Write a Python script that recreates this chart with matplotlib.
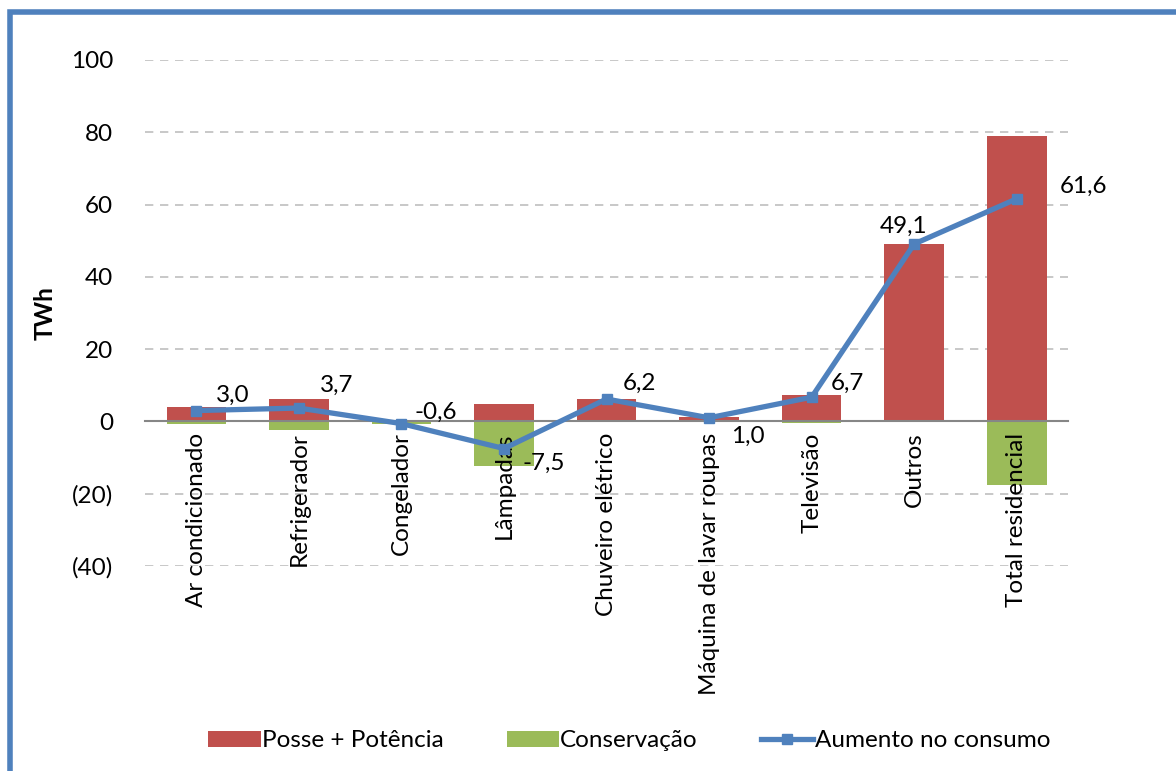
import matplotlib

matplotlib.use("Agg")

import matplotlib.pyplot as plt
from matplotlib.patches import Rectangle
from matplotlib.ticker import FuncFormatter, MultipleLocator

plt.rcParams["font.family"] = ["Lato", "DejaVu Sans"]

CATEGORIES = [
    "Ar condicionado",
    "Refrigerador",
    "Congelador",
    "Lâmpadas",
    "Chuveiro elétrico",
    "Máquina de lavar roupas",
    "Televisão",
    "Outros",
    "Total residencial",
]
POSSE = [3.9, 6.3, 0.0, 4.9, 6.3, 1.2, 7.2, 49.0, 79.1]
CONSERVACAO = [-0.6, -2.5, -0.6, -12.4, -0.1, -0.2, -0.5, 0.0, -17.5]
AUMENTO = [3.0, 3.7, -0.6, -7.5, 6.2, 1.0, 6.7, 49.1, 61.6]
GRID_LEVELS = [-40, -20, 20, 40, 60, 80, 100]

# label offsets (points) for the line data labels
LABEL_OFFSETS = [
    (26, 11), (27, 16), (25, 8), (29, -11), (24, 11),
    (28, -13), (26, 10), (-8, 13), (48, 9),
]

RED = "#C0504D"
GREEN = "#9BBB59"
BLUE = "#4F81BD"
FS = 17.5


def _fmt(v, _pos):
    v = int(round(v))
    return f"({abs(v)})" if v < 0 else f"{v}"


fig = plt.figure(figsize=(11.76, 7.71), dpi=100)
ax = fig.add_axes([0.1233, 0.2659, 0.7849, 0.6563])

for lvl in GRID_LEVELS:
    ax.axhline(lvl, linestyle=(0, (5, 4)), color="#BFBFBF", linewidth=1.2, zorder=0)

x = list(range(len(CATEGORIES)))
b1 = ax.bar(x, POSSE, width=0.58, color=RED, label="Posse + Potência", zorder=1)
b2 = ax.bar(x, CONSERVACAO, width=0.58, color=GREEN, label="Conservação", zorder=1)
(ln,) = ax.plot(x, AUMENTO, color=BLUE, linewidth=3.8, marker="s", markersize=7,
                label="Aumento no consumo", zorder=3)

for xi, yi, off in zip(x, AUMENTO, LABEL_OFFSETS):
    ax.annotate(f"{yi:.1f}".replace(".", ","), xy=(xi, yi), xytext=off,
                textcoords="offset points", ha="center", va="center",
                fontsize=FS, zorder=4)

ax.set_xlim(-0.5, len(CATEGORIES) - 0.5)
ax.set_ylim(-40, 100)
ax.yaxis.set_major_locator(MultipleLocator(20))
ax.yaxis.set_major_formatter(FuncFormatter(_fmt))

for side in ["top", "right", "left"]:
    ax.spines[side].set_visible(False)
ax.spines["bottom"].set_position(("data", 0))
ax.spines["bottom"].set_color("#868686")
ax.spines["bottom"].set_linewidth(1.5)

ax.set_xticks(x)
ax.set_xticklabels(CATEGORIES, rotation=90, fontsize=FS, va="top", ha="center")
ax.tick_params(axis="x", length=0, pad=8)
ax.tick_params(axis="y", length=0, labelsize=FS, pad=23)
ax.set_ylabel("TWh", fontsize=FS, fontweight="bold", labelpad=10)

fig.legend(handles=[b1, b2, ln], loc="center", bbox_to_anchor=(0.535, 0.039),
           ncol=3, frameon=False, fontsize=FS, handlelength=2.15,
           handleheight=0.6, columnspacing=2.6, handletextpad=0.05)

fig.patches.append(Rectangle((10 / 1176, -0.05), 1.2, 1.05 - 12.5 / 771,
                             transform=fig.transFigure, fill=False,
                             edgecolor=BLUE, linewidth=4))

fig.savefig("out.png", dpi=100)
